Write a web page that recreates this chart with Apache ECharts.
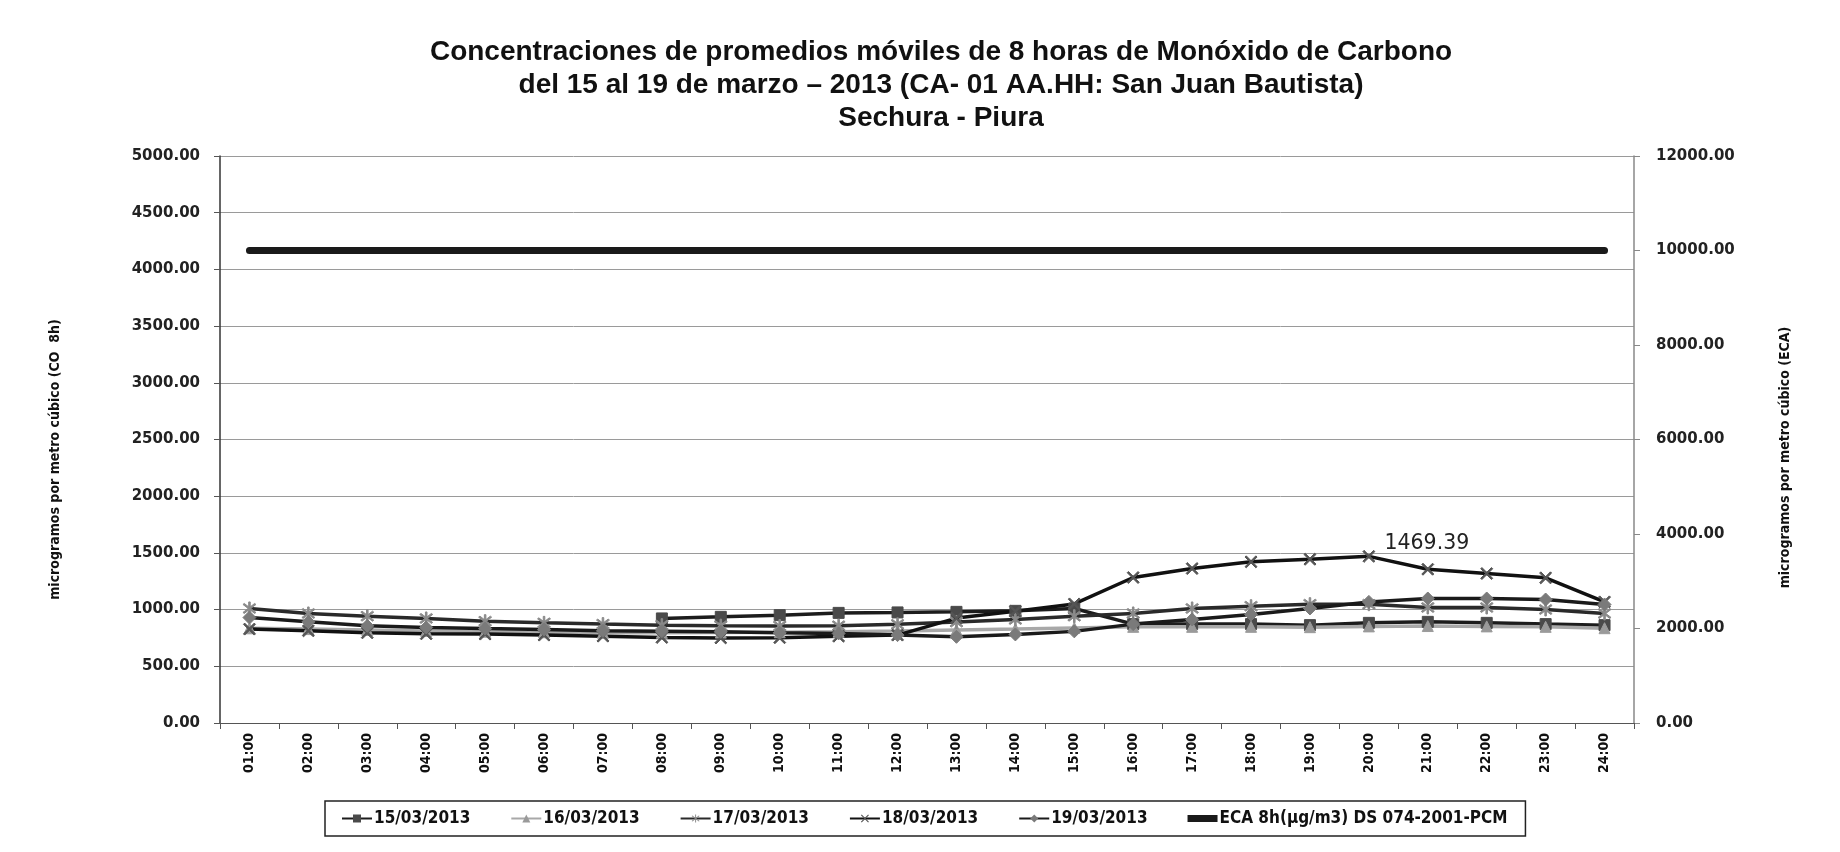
<!DOCTYPE html>
<html>
<head>
<meta charset="utf-8">
<script src="https://cdn.jsdelivr.net/npm/echarts@6/dist/echarts.min.js"></script>
<style>
html,body{margin:0;padding:0;background:#fff;}
#chart{width:1840px;height:852px;}
</style>
</head>
<body>
<div id="chart"></div>
<script>
// ---- data ----
const hours = ['01:00','02:00','03:00','04:00','05:00','06:00','07:00','08:00','09:00','10:00','11:00','12:00',
               '13:00','14:00','15:00','16:00','17:00','18:00','19:00','20:00','21:00','22:00','23:00','24:00'];
const s1503 = [null, null, null, null, null, null, null, 922, 936, 951, 971, 975, 980, 989, 1010, 872, 872, 872, 863, 883, 892, 883, 872, 863];
const s1603 = [835, 828, 820, 812, 805, 800, 796, 795, 797, 800, 805, 812, 820, 828, 838, 848, 848, 848, 845, 852, 855, 852, 848, 836];
const s1703 = [1010, 966, 942, 922, 898, 883, 872, 863, 858, 855, 858, 870, 890, 913, 942, 966, 1010, 1030, 1048, 1048, 1019, 1019, 1001, 966];
const s1803 = [828, 813, 795, 786, 784, 775, 766, 754, 750, 752, 765, 775, 925, 985, 1050, 1283, 1362, 1421, 1444, 1469.39, 1356, 1318, 1280, 1068];
const s1903 = [930, 892, 857, 843, 833, 825, 813, 810, 804, 795, 790, 775, 760, 781, 808, 872, 913, 957, 1010, 1068, 1098, 1098, 1089, 1045];
const eca   = [10000, 10000, 10000, 10000, 10000, 10000, 10000, 10000, 10000, 10000, 10000, 10000,
               10000, 10000, 10000, 10000, 10000, 10000, 10000, 10000, 10000, 10000, 10000, 10000];
const seriesNames = ['15/03/2013','16/03/2013','17/03/2013','18/03/2013','19/03/2013','ECA 8h(µg/m3) DS 074-2001-PCM'];
const labelledIndex = 19; // 20:00 value of 18/03 is labelled
const titleText = 'Concentraciones de promedios móviles de 8 horas de Monóxido de Carbono\ndel 15 al 19 de marzo – 2013 (CA- 01 AA.HH: San Juan Bautista)\nSechura - Piura';
const leftName = 'microgramos por metro cúbico (CO  8h)';
const rightName = 'microgramos por metro cúbico (ECA)';

// ---- styles ----
const X_SYM = 'path://M1,0 L5,4 L9,0 L10,1 L6,5 L10,9 L9,10 L5,6 L1,10 L0,9 L4,5 L0,1 Z';
const STAR_SYM = 'path://M1,0 L5,4 L9,0 L10,1 L6,5 L10,9 L9,10 L5,6 L1,10 L0,9 L4,5 L0,1 Z M4.4,-1.5 L5.6,-1.5 L5.6,11.5 L4.4,11.5 Z';
const BAR_ICON = 'path://M0,0 L30,0 L30,7 L0,7 Z';
const condensed = '"DejaVu Sans Condensed", "DejaVu Sans", sans-serif';
const verdana = '"DejaVu Sans", Verdana, sans-serif';

function lineSeries(name, data, lineColor, sym, symColor, symSize) {
  return {
    name: name, type: 'line', yAxisIndex: 0, data: data,
    symbol: sym, symbolSize: symSize, showSymbol: true,
    lineStyle: { color: lineColor, width: 3.5 },
    itemStyle: { color: symColor, borderColor: symColor },
    connectNulls: false, z: 3
  };
}

const chart = echarts.init(document.getElementById('chart'), null, {renderer: 'canvas'});
const option = {
  backgroundColor: '#ffffff',
  animation: false,
  title: {
    text: titleText,
    left: 936, textAlign: 'center', top: 31,
    textStyle: { fontFamily: '"Liberation Sans", Arial, sans-serif', fontWeight: 'bold', fontSize: 28, lineHeight: 33, color: '#111' }
  },
  grid: { left: 220, right: 206, top: 156, bottom: 129, containLabel: false },
  legend: {
    data: seriesNames.slice(0, 5).map(function (n) { return { name: n }; })
          .concat([{ name: seriesNames[5], icon: BAR_ICON }]),
    left: 325, top: 801,
    padding: [9, 18, 9, 16],
    borderColor: '#222', borderWidth: 1.5,
    itemWidth: 30, itemHeight: 10, itemGap: 40,
    textStyle: { fontFamily: condensed, fontWeight: 'bold', fontSize: 17, color: '#111', padding: [0, 0, 0, -3] }
  },
  xAxis: {
    type: 'category', data: hours, boundaryGap: true,
    axisLine: { lineStyle: { color: '#555', width: 1 } },
    axisTick: { show: true, inside: false, length: 6, lineStyle: { color: '#555' } },
    axisLabel: { rotate: 90, margin: 10, fontFamily: condensed, fontWeight: 'bold', fontSize: 14, color: '#111' },
    splitLine: { show: false }
  },
  yAxis: [
    {
      type: 'value', min: 0, max: 5000, interval: 500, position: 'left',
      name: leftName, nameLocation: 'middle', nameRotate: 90, nameGap: 158,
      nameTextStyle: { fontFamily: condensed, fontWeight: 'bold', fontSize: 14, color: '#111', padding: [0, 40, 0, 0] },
      axisLine: { show: true, lineStyle: { color: '#333', width: 1.5 } },
      axisTick: { show: true, length: 6, lineStyle: { color: '#555' } },
      axisLabel: { margin: 20, fontFamily: verdana, fontWeight: 'bold', fontSize: 15, color: '#222',
                   formatter: function (v) { return v.toFixed(2); } },
      splitLine: { show: true, lineStyle: { color: '#9a9a9a', width: 1 } }
    },
    {
      type: 'value', min: 0, max: 12000, interval: 2000, position: 'right',
      name: rightName, nameLocation: 'middle', nameRotate: 90, nameGap: 144,
      nameTextStyle: { fontFamily: condensed, fontWeight: 'bold', fontSize: 14, color: '#111', padding: [0, 36, 0, 0] },
      axisLine: { show: true, lineStyle: { color: '#888', width: 1.5 } },
      axisTick: { show: true, length: 6, lineStyle: { color: '#888' } },
      axisLabel: { margin: 22, fontFamily: verdana, fontWeight: 'bold', fontSize: 15, color: '#222',
                   formatter: function (v) { return v.toFixed(2); } },
      splitLine: { show: false }
    }
  ],
  series: [
    lineSeries(seriesNames[0], s1503, '#1c1c1c', 'rect', '#4a4a4a', 11),
    lineSeries(seriesNames[1], s1603, '#a8a8a8', 'triangle', '#9a9a9a', 11),
    lineSeries(seriesNames[2], s1703, '#2a2a2a', STAR_SYM, '#8a8a8a', 13),
    (function () {
      const s = lineSeries(seriesNames[3], s1803.map(function (v, i) {
        return i === labelledIndex ? { value: v, label: { show: true } } : v;
      }), '#111111', X_SYM, '#555555', 12);
      s.label = { show: false, position: 'top', distance: 4, offset: [58, 8],
                  fontFamily: '"DejaVu Sans", sans-serif', fontSize: 20.5, color: '#222',
                  formatter: function (p) { return p.value.toFixed(2); } };
      return s;
    })(),
    lineSeries(seriesNames[4], s1903, '#1a1a1a', 'diamond', '#7a7a7a', 13),
    {
      name: seriesNames[5], type: 'line', yAxisIndex: 1, data: eca,
      symbol: 'none', showSymbol: false,
      lineStyle: { color: '#1a1a1a', width: 7, cap: 'round' },
      itemStyle: { color: '#1a1a1a' }, z: 4
    }
  ]
};
chart.setOption(option);
</script>
</body>
</html>
